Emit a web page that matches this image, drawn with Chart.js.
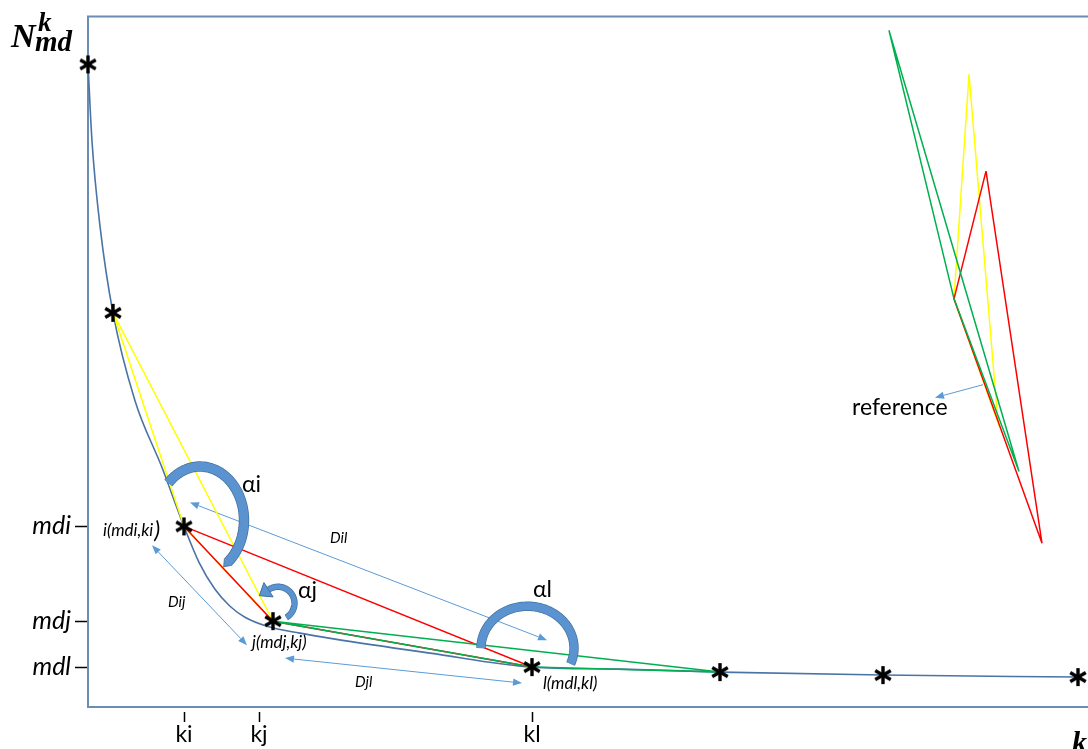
<!DOCTYPE html>
<html>
<head>
<meta charset="utf-8">
<script src="https://cdn.jsdelivr.net/npm/chart.js@4.4.0/dist/chart.umd.min.js"></script>
<style>
  html, body { margin: 0; padding: 0; background: #ffffff; overflow: hidden; }
  #wrap { width: 1088px; height: 749px; }
</style>
</head>
<body>
<div id="wrap"><canvas id="c" width="1088" height="749"></canvas></div>
<script>
// ---- data (k along the horizontal axis, N along the vertical axis) ----
// samples of the decreasing curve N(k)
const curveK = [0, 4, 12, 25, 47, 74, 96, 111, 127, 142, 157, 179, 212, 247, 342, 444, 532, 632, 795, 990];
const curveN = [644, 567, 482, 395, 307, 240, 181, 145, 118, 101, 90, 81, 74, 68, 54, 40, 38, 35, 32, 30];

// marked points (asterisks); index 2 = i, 3 = j, 4 = l
const markK = [0, 25, 96, 185, 444, 632, 795, 990];
const markN = [644, 395, 181, 86, 40, 35, 32, 30];

// triangles built from the marked points (vertex indices)
const triYellow = [1, 2, 3];
const triRed = [2, 3, 4];
const triGreen = [3, 4, 5];

// the same triangles laid on a common reference vertex
const refYellowK = [881, 866, 910];
const refYellowN = [634, 409, 285];
const refRedK = [898, 866, 954];
const refRedN = [537, 409, 164];
const refGreenK = [801, 866, 931];
const refGreenN = [678, 409, 236];

// axis ticks
const nTickLabels = ['mdi', 'mdj', 'mdl'];
const nTickValues = [markN[2], markN[3], markN[4]];
const kTickLabels = ['ki', 'kj', 'kl'];
const kTickValues = [96, 171, 444];

// ---- styles ----
const frameColor = '#6a8cb5';
const curveColor = '#4a73a6';
const arrowColor = '#5b9bd5';
const turnFill = '#5b93d1';
const turnEdge = '#41719c';
const sans = "Lato, 'Open Sans', 'DejaVu Sans', sans-serif";
const serif = "'Liberation Serif', 'DejaVu Serif', serif";

// distance arrows between points (data coordinates)
const arrows = [
  { k1: 102, n1: 205, k2: 459, n2: 67, both: true },   // Dil
  { k1: 64, n1: 162, k2: 159, n2: 62, both: true },    // Dij
  { k1: 197, n1: 49, k2: 434, n2: 24, both: true },    // Djl
  { k1: 895, n1: 323, k2: 847, n2: 310, both: false }  // reference
];

// angle markers: elliptical thick arcs around i, j and l
const turns = [
  { cx: 112, cy: 187, rx: 44, ry: 54, from: 136, to: -50, w: 9, end: 'taper' },
  { cx: 190, cy: 104, rx: 16.5, ry: 16.5, from: -60, to: 125, w: 5, end: 'head' },
  { cx: 439.5, cy: 59, rx: 46.5, ry: 42, from: 180, to: -22, w: 8, end: 'flat' }
];

// text notes (anchored in data coordinates, left aligned, vertically centred)
const notes = [
  { t: 'αi', k: 154, n: 223, font: '23px ' + sans },
  { t: 'αj', k: 210, n: 117, font: '23px ' + sans },
  { t: 'αl', k: 445, n: 118, font: '23px ' + sans },
  { t: 'i(mdi,ki', k: 15, n: 177, font: 'italic 17px ' + sans, tail: ')' },
  { t: 'j(mdj,kj)', k: 164, n: 65, font: 'italic 17px ' + sans },
  { t: 'l(mdl,kl)', k: 455, n: 24, font: 'italic 17px ' + sans },
  { t: 'Dil', k: 242, n: 169, font: 'italic 15px ' + sans },
  { t: 'Dij', k: 80, n: 105, font: 'italic 15px ' + sans },
  { t: 'Djl', k: 267, n: 25, font: 'italic 15px ' + sans },
  { t: 'reference', k: 764, n: 300, font: '23px ' + sans }
];

// ---- helpers ----
function pts(ks, ns) { return ks.map((k, i) => ({ x: k, y: ns[i] })); }
function closedFromMarks(idx) {
  const a = idx.concat([idx[0]]);
  return a.map(i => ({ x: markK[i], y: markN[i] }));
}
function closed(ks, ns) { const p = pts(ks, ns); p.push(p[0]); return p; }

function makeAsterisk() {
  const c = document.createElement('canvas');
  c.width = 24; c.height = 24;
  const g = c.getContext('2d');
  g.strokeStyle = '#000';
  g.lineWidth = 3.4;
  g.lineCap = 'butt';
  const cx = 12, cy = 12, r = 9;
  [90, 30, 150].forEach(deg => {
    const a = deg * Math.PI / 180;
    g.beginPath();
    g.moveTo(cx - r * Math.cos(a), cy - r * Math.sin(a));
    g.lineTo(cx + r * Math.cos(a), cy + r * Math.sin(a));
    g.stroke();
  });
  return c;
}

function head(ctx, tipX, tipY, dx, dy, len, hw) {
  const bx = tipX - dx * len, by = tipY - dy * len;
  ctx.beginPath();
  ctx.moveTo(tipX, tipY);
  ctx.lineTo(bx - dy * hw, by + dx * hw);
  ctx.lineTo(bx + dy * hw, by - dx * hw);
  ctx.closePath();
  ctx.fill();
}

function drawArrow(ctx, xs, ys, ar) {
  const x1 = xs.getPixelForValue(ar.k1), y1 = ys.getPixelForValue(ar.n1);
  const x2 = xs.getPixelForValue(ar.k2), y2 = ys.getPixelForValue(ar.n2);
  let dx = x2 - x1, dy = y2 - y1;
  const L = Math.hypot(dx, dy); dx /= L; dy /= L;
  const len = 9, hw = 3.6;
  const sx = ar.both ? x1 + dx * len : x1, sy = ar.both ? y1 + dy * len : y1;
  ctx.strokeStyle = arrowColor;
  ctx.fillStyle = arrowColor;
  ctx.lineWidth = 1;
  ctx.beginPath();
  ctx.moveTo(sx, sy);
  ctx.lineTo(x2 - dx * len, y2 - dy * len);
  ctx.stroke();
  head(ctx, x2, y2, dx, dy, len, hw);
  if (ar.both) head(ctx, x1, y1, -dx, -dy, len, hw);
}

function drawTurn(ctx, xs, ys, t) {
  const n = 80, p = [];
  for (let i = 0; i <= n; i++) {
    const a = (t.from + (t.to - t.from) * i / n) * Math.PI / 180;
    p.push([xs.getPixelForValue(t.cx + t.rx * Math.cos(a)), ys.getPixelForValue(t.cy + t.ry * Math.sin(a))]);
  }
  const path = () => {
    ctx.beginPath();
    p.forEach((q, i) => (i ? ctx.lineTo(q[0], q[1]) : ctx.moveTo(q[0], q[1])));
  };
  ctx.lineCap = 'butt';
  ctx.lineJoin = 'round';
  path(); ctx.strokeStyle = turnEdge; ctx.lineWidth = t.w + 1.4; ctx.stroke();
  path(); ctx.strokeStyle = turnFill; ctx.lineWidth = t.w; ctx.stroke();
  const E = p[n], P = p[n - 2];
  let dx = E[0] - P[0], dy = E[1] - P[1];
  const L = Math.hypot(dx, dy); dx /= L; dy /= L;
  if (t.end === 'head') {
    const len = 11, hw = 8.5;
    ctx.beginPath();
    ctx.moveTo(E[0] - dy * hw, E[1] + dx * hw);
    ctx.lineTo(E[0] + dx * len, E[1] + dy * len);
    ctx.lineTo(E[0] + dy * hw, E[1] - dx * hw);
    ctx.closePath();
    ctx.fillStyle = turnFill; ctx.fill();
    ctx.strokeStyle = turnEdge; ctx.lineWidth = 1; ctx.stroke();
  } else if (t.end === 'taper') {
    const len = 7, hw = t.w / 2 + 0.7;
    ctx.beginPath();
    ctx.moveTo(E[0] - dy * hw, E[1] + dx * hw);
    ctx.lineTo(E[0] + dx * len, E[1] + dy * len);
    ctx.lineTo(E[0] + dy * hw, E[1] - dx * hw);
    ctx.closePath();
    ctx.fillStyle = turnFill; ctx.fill();
    ctx.beginPath();
    ctx.moveTo(E[0] - dy * hw, E[1] + dx * hw);
    ctx.lineTo(E[0] + dx * len, E[1] + dy * len);
    ctx.lineTo(E[0] + dy * hw, E[1] - dx * hw);
    ctx.strokeStyle = turnEdge; ctx.lineWidth = 0.8; ctx.stroke();
  }
}

const annotate = {
  id: 'annotate',
  beforeDatasetsDraw(chart) {
    const { ctx, chartArea: a, scales: { x, y } } = chart;
    ctx.save();
    ctx.strokeStyle = frameColor;
    ctx.lineWidth = 2;
    ctx.beginPath();
    ctx.moveTo(a.left - 1, a.top);
    ctx.lineTo(a.right, a.top);
    ctx.stroke();
    arrows.forEach(ar => drawArrow(ctx, x, y, ar));
    ctx.restore();
  },
  afterDatasetsDraw(chart) {
    const { ctx, scales: { x, y } } = chart;
    ctx.save();
    turns.forEach(t => drawTurn(ctx, x, y, t));
    ctx.fillStyle = '#000';
    ctx.textAlign = 'left';
    ctx.textBaseline = 'middle';
    notes.forEach(nt => {
      const px = x.getPixelForValue(nt.k), py = y.getPixelForValue(nt.n);
      ctx.font = nt.font;
      ctx.fillText(nt.t, px, py);
      if (nt.tail) {
        const w = ctx.measureText(nt.t).width;
        ctx.font = 'italic 23px ' + sans;
        ctx.fillText(nt.tail, px + w + 1, py);
      }
    });
    ctx.restore();
  },
  afterDraw(chart) {
    const { ctx } = chart;
    ctx.save();
    ctx.fillStyle = '#000';
    ctx.textAlign = 'left';
    ctx.textBaseline = 'alphabetic';
    ctx.font = 'bold italic 34px ' + serif;
    ctx.fillText('N', 11, 47);
    ctx.font = 'bold italic 27px ' + serif;
    ctx.fillText('k', 38, 31);
    ctx.font = 'bold italic 29px ' + serif;
    ctx.fillText('md', 35, 51);
    ctx.font = 'bold italic 30px ' + serif;
    ctx.fillText('k', 1072, 752);
    ctx.restore();
  }
};

const star = makeAsterisk();
const lineBase = { showLine: true, pointRadius: 0, borderWidth: 1.5, tension: 0, fill: false };

const datasets = [
  { label: 'points', data: pts(markK, markN), showLine: false, pointStyle: star, pointRadius: 10, clip: false },
  Object.assign({ label: 'green', data: closedFromMarks(triGreen), borderColor: '#00b050' }, lineBase),
  Object.assign({ label: 'red', data: closedFromMarks(triRed), borderColor: '#ff0000' }, lineBase),
  Object.assign({ label: 'yellow', data: closedFromMarks(triYellow), borderColor: '#ffff00' }, lineBase),
  Object.assign({}, lineBase, { label: 'curve', data: pts(curveK, curveN), borderColor: curveColor, borderWidth: 1.6, cubicInterpolationMode: 'monotone', clip: false }),
  Object.assign({ label: 'ref green', data: closed(refGreenK, refGreenN), borderColor: '#00b050' }, lineBase),
  Object.assign({ label: 'ref red', data: closed(refRedK, refRedN), borderColor: '#ff0000' }, lineBase),
  Object.assign({ label: 'ref yellow', data: closed(refYellowK, refYellowN), borderColor: '#ffff00' }, lineBase)
];

new Chart(document.getElementById('c'), {
  type: 'scatter',
  data: { datasets },
  options: {
    responsive: false,
    animation: false,
    devicePixelRatio: 1,
    events: [],
    layout: { padding: { top: 15, right: 0, bottom: 0, left: 0 }, autoPadding: false },
    plugins: { legend: { display: false }, tooltip: { enabled: false } },
    scales: {
      x: {
        type: 'linear', min: 0, max: 1000, position: 'bottom',
        afterBuildTicks: s => { s.ticks = kTickValues.map(v => ({ value: v })); },
        afterFit: s => { s.height = 42; },
        ticks: {
          autoSkip: false, maxRotation: 0, padding: 1, color: '#000',
          font: { family: sans, size: 23, lineHeight: 1 },
          callback: (v, i) => kTickLabels[i]
        },
        grid: {
          drawOnChartArea: false, drawTicks: true, tickLength: 15, tickColor: '#000', tickWidth: 1.5,
          tickBorderDash: [10, 4], tickBorderDashOffset: 10
        },
        border: { display: true, color: frameColor, width: 2 }
      },
      y: {
        type: 'linear', min: 0, max: 692, position: 'left',
        afterBuildTicks: s => { s.ticks = nTickValues.map(v => ({ value: v })); },
        afterFit: s => { s.width = 88; },
        ticks: {
          autoSkip: false, padding: 4, color: '#000',
          font: { family: sans, size: 25, style: 'italic', lineHeight: 1 },
          callback: (v, i) => nTickLabels[i]
        },
        grid: { drawOnChartArea: false, drawTicks: true, tickLength: 13, tickColor: '#000', tickWidth: 1.5 },
        border: { display: true, color: frameColor, width: 2 }
      }
    }
  },
  plugins: [annotate]
});
</script>
</body>
</html>
